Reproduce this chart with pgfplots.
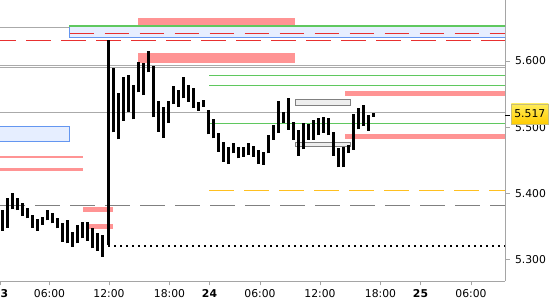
\documentclass[border=0pt]{standalone}
\usepackage{fontspec}
\setmainfont{DejaVu Sans}
\usepackage{pgfplots}
\pgfplotsset{compat=1.18}
\usepackage{pgfplotstable}

\definecolor{pk}{RGB}{255,148,148}
\definecolor{gn}{RGB}{95,200,95}
\definecolor{lb}{RGB}{230,238,255}
\definecolor{bb}{RGB}{100,150,240}
\definecolor{rd}{RGB}{232,48,48}
\definecolor{lg}{RGB}{170,170,170}
\definecolor{dg}{RGB}{128,128,128}
\definecolor{og}{RGB}{255,192,32}
\definecolor{axc}{RGB}{165,165,165}
\definecolor{rf}{RGB}{238,238,238}

\pgfplotstableread{
x hi lo
2 5.3749 5.3432
7 5.3935 5.3482
12 5.4001 5.3764
17 5.3935 5.3749
22 5.3850 5.3663
27 5.3784 5.3624
32 5.3674 5.3482
37 5.3609 5.3437
42 5.3643 5.3523
47 5.3749 5.3594
52 5.3699 5.3548
57 5.3633 5.3473
62 5.3557 5.3270
67 5.3598 5.3246
72 5.3421 5.3195
77 5.3523 5.3246
82 5.3563 5.3322
87 5.3563 5.3281
92 5.3482 5.3171
97 5.3406 5.3134
102 5.3372 5.3044
108 5.6317 5.3220
113 5.5899 5.4923
118 5.5521 5.4817
123 5.5763 5.5098
128 5.5789 5.5234
133 5.5637 5.5119
138 5.5980 5.5527
143 5.5965 5.5486
148 5.6156 5.5829
153 5.5929 5.5150
158 5.5396 5.4932
163 5.5310 5.4841
168 5.5396 5.5068
173 5.5622 5.5350
178 5.5562 5.5310
183 5.5754 5.5437
188 5.5637 5.5385
193 5.5588 5.5295
198 5.5385 5.5245
203 5.5411 5.5310
208 5.5260 5.4893
213 5.5119 5.4832
218 5.4917 5.4630
223 5.4781 5.4479
228 5.4696 5.4444
233 5.4757 5.4606
238 5.4696 5.4530
243 5.4696 5.4555
248 5.4757 5.4580
253 5.4716 5.4555
258 5.4656 5.4444
263 5.4630 5.4429
268 5.4882 5.4606
273 5.5033 5.4807
278 5.5396 5.4917
283 5.5234 5.5059
288 5.5437 5.4958
293 5.5083 5.4807
298 5.4958 5.4565
303 5.5059 5.4666
308 5.5048 5.4807
313 5.5109 5.4807
318 5.5134 5.4882
323 5.5150 5.4917
328 5.5134 5.4882
333 5.4932 5.4565
338 5.4681 5.4394
343 5.4696 5.4394
348 5.4731 5.4615
353 5.5199 5.4656
358 5.5285 5.4968
363 5.5335 5.5018
368 5.5184 5.4947
373 5.5210 5.5159
}\bars

\begin{document}
\begin{tikzpicture}
\begin{axis}[
  at={(0pt,19pt)}, anchor=south west,
  scale only axis, width=505pt, height=281pt,
  xmin=0, xmax=505, ymin=5.26767, ymax=5.69215,
  axis x line*=bottom, axis y line*=right,
  axis line style={-, draw=axc, line width=0.9pt},
  tick align=outside, major tick length=4.5pt,
  tick style={draw=axc, line width=0.9pt},
  xtick={0.5,49.5,109,169.5,209.5,260,320,380.5,420.5,471},
  xticklabels={\textbf{23},06:00,12:00,18:00,\textbf{24},06:00,12:00,18:00,\textbf{25},06:00},
  ytick={5.3,5.4,5.5,5.6},
  yticklabels={5.300,5.400,5.500,5.600},
  ticklabel style={font=\fontsize{10.8}{12}\selectfont, text=black},
  yticklabel style={anchor=west, xshift=2pt},
]
% long horizontal lines
\addplot[lg, line width=1pt] coordinates {(0,5.6509) (505,5.6509)};
\addplot[lg, line width=1pt] coordinates {(0,5.5935) (505,5.5935)};
\addplot[lg, line width=1pt] coordinates {(0,5.5905) (505,5.5905)};
\addplot[lg, line width=1pt] coordinates {(0,5.5225) (505,5.5225)};
% pink zones
\addplot[fill=pk, draw=none] coordinates {(138,5.6650) (295,5.6650) (295,5.6529) (138,5.6529)} -- cycle;
\addplot[fill=pk, draw=none] coordinates {(138,5.6121) (295,5.6121) (295,5.5974) (138,5.5974)} -- cycle;
\addplot[fill=pk, draw=none] coordinates {(345,5.5547) (505,5.5547) (505,5.5471) (345,5.5471)} -- cycle;
\addplot[fill=pk, draw=none] coordinates {(345,5.4893) (505,5.4893) (505,5.4822) (345,5.4822)} -- cycle;
\addplot[fill=pk, draw=none] coordinates {(0,5.4570) (83,5.4570) (83,5.4540) (0,5.4540)} -- cycle;
\addplot[fill=pk, draw=none] coordinates {(0,5.4384) (83,5.4384) (83,5.4334) (0,5.4334)} -- cycle;
\addplot[fill=pk, draw=none] coordinates {(83,5.3795) (113,5.3795) (113,5.3724) (83,5.3724)} -- cycle;
\addplot[fill=pk, draw=none] coordinates {(86,5.3538) (113,5.3538) (113,5.3462) (86,5.3462)} -- cycle;
% blue boxes
\addplot[fill=lb, draw=bb, line width=1pt] coordinates {(69,5.6518) (506,5.6518) (506,5.6358) (69,5.6358)} -- cycle;
\addplot[fill=lb, draw=bb, line width=1pt] coordinates {(-1,5.5018) (69,5.5018) (69,5.4787) (-1,5.4787)} -- cycle;
% gray boxes
\addplot[fill=rf, draw=dg, line width=1pt] coordinates {(295.3,5.5411) (350.3,5.5411) (350.3,5.5331) (295.3,5.5331)} -- cycle;
\addplot[fill=rf, draw=dg, line width=1pt] coordinates {(295.3,5.4766) (350.3,5.4766) (350.3,5.4705) (295.3,5.4705)} -- cycle;
% green lines
\addplot[gn, line width=1.3pt] coordinates {(69,5.6529) (505,5.6529)};
\addplot[gn, line width=1pt] coordinates {(209,5.5784) (505,5.5784)};
\addplot[gn, line width=1pt] coordinates {(209,5.5633) (505,5.5633)};
\addplot[gn, line width=1pt] coordinates {(209,5.5059) (505,5.5059)};
% dashed lines
\addplot[rd, line width=1.2pt, dash pattern=on 24pt off 11pt] coordinates {(69.7,5.6418) (505,5.6418)};
\addplot[rd, line width=1.2pt, dash pattern=on 25pt off 10pt, dash phase=9pt] coordinates {(0,5.6313) (505,5.6313)};
\addplot[og, line width=1.2pt, dash pattern=on 25pt off 10pt] coordinates {(209.3,5.4047) (505,5.4047)};
\addplot[dg, line width=1.2pt, dash pattern=on 25pt off 10pt] coordinates {(0,5.3820) (505,5.3820)};
\addplot[black, line width=2pt, dash pattern=on 2pt off 4pt] coordinates {(108,5.3210) (505,5.3210)};
% price bars
\addplot[draw=none, forget plot,
  error bars/.cd, y dir=plus, y explicit, error mark=none,
  error bar style={draw=black, line width=3pt, solid}]
  table[x=x, y=lo, y error expr=\thisrow{hi}-\thisrow{lo}] {\bars};
\end{axis}
\draw[black, line width=1pt] (505pt,184.5pt) -- (510pt,184.5pt);
\node[anchor=west, draw={rgb,255:red,200;green,190;blue,120}, line width=0.6pt,
  top color={rgb,255:red,255;green,236;blue,90},
  bottom color={rgb,255:red,255;green,204;blue,0},
  minimum width=37pt, minimum height=20pt, inner sep=1pt,
  font=\fontsize{10.8}{12}\selectfont] at (511pt,186pt) {5.517};
\pgfresetboundingbox
\useasboundingbox (0,0) rectangle (550pt,300pt);
\end{tikzpicture}
\end{document}
